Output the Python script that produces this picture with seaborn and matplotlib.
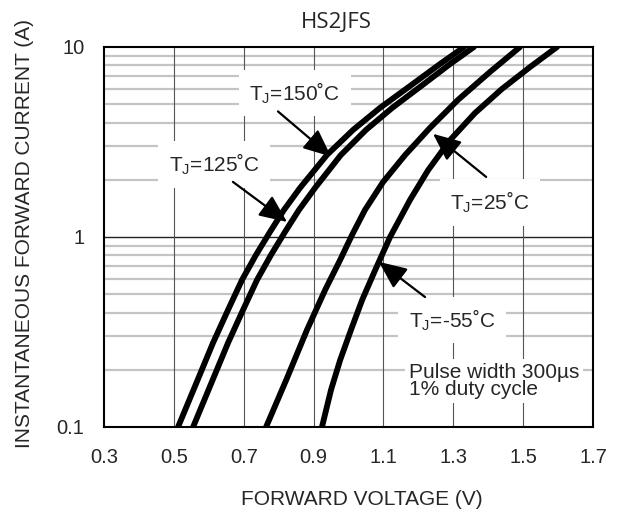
import pandas as pd
import seaborn as sns
import matplotlib.pyplot as plt
from matplotlib.ticker import FixedLocator, NullFormatter

# forward voltage (V) vs instantaneous forward current (A)
i_hot = [0.1, 0.168, 0.277, 0.413, 0.594, 0.804, 1.062, 1.387, 1.811, 2.70, 3.66, 4.78, 6.23, 8.14, 10.0]
v_150 = [0.512, 0.563, 0.612, 0.655, 0.695, 0.735, 0.775, 0.815, 0.861, 0.938, 1.013, 1.090, 1.176, 1.262, 1.331]
v_125 = [0.555, 0.606, 0.655, 0.698, 0.738, 0.778, 0.818, 0.858, 0.904, 0.978, 1.050, 1.125, 1.208, 1.291, 1.359]
v_25 = [0.764, 0.824, 0.881, 0.933, 0.976, 1.010, 1.047, 1.099, 1.162, 1.233, 1.313, 1.405, 1.491]
i_25 = [0.1, 0.181, 0.324, 0.526, 0.757, 1.024, 1.387, 1.948, 2.70, 3.75, 5.26, 7.39, 10.0]
v_m55 = [0.924, 0.950, 0.976, 1.007, 1.039, 1.079, 1.119, 1.176, 1.228, 1.291, 1.362, 1.439, 1.520, 1.597]
i_m55 = [0.1, 0.157, 0.225, 0.324, 0.466, 0.687, 1.0, 1.566, 2.25, 3.24, 4.49, 6.01, 7.85, 10.0]

x_ticks = [0.3, 0.5, 0.7, 0.9, 1.1, 1.3, 1.5, 1.7]
y_ticks = [0.1, 1, 10]
y_ticklabels = ['0.1', '1', '10']

df = pd.concat([
    pd.DataFrame({'V': v_150, 'I': i_hot, 'Tj': '150'}),
    pd.DataFrame({'V': v_125, 'I': i_hot, 'Tj': '125'}),
    pd.DataFrame({'V': v_25, 'I': i_25, 'Tj': '25'}),
    pd.DataFrame({'V': v_m55, 'I': i_m55, 'Tj': '-55'}),
])

sns.set_style('white')
plt.rcParams['font.family'] = ['Liberation Sans', 'DejaVu Sans']

fig = plt.figure(figsize=(6.18, 5.14), dpi=100)
ax = fig.add_axes([0.1683, 0.1693, 0.7913, 0.7393])
ax.set_yscale('log')
ax.set_xlim(0.3, 1.7)
ax.set_ylim(0.1, 10)

# grid: grey minor lines, dark decade line and dark voltage lines
ax.yaxis.set_minor_locator(FixedLocator([k * 0.1 for k in range(2, 10)] + list(range(2, 10))))
ax.yaxis.set_minor_formatter(NullFormatter())
ax.grid(which='minor', axis='y', color='#c4c4c4', lw=1.6)
ax.axhline(1, color='#222222', lw=1.0, zorder=1)
for xv in x_ticks[1:-1]:
    ax.axvline(xv, color='#555555', lw=0.8, zorder=1)

sns.lineplot(data=df, x='V', y='I', hue='Tj', palette=['black'] * 4,
             lw=4.2, legend=False, sort=False, estimator=None, ax=ax, zorder=3)

ax.set_xticks(x_ticks)
ax.set_xticklabels([f'{t:.1f}' for t in x_ticks], fontsize=14.5)
ax.set_yticks(y_ticks)
ax.set_yticklabels(y_ticklabels, fontsize=14.5)
ax.tick_params(axis='x', which='both', length=0, pad=15)
ax.tick_params(axis='y', which='both', length=0, pad=14)
for s in ax.spines.values():
    s.set_color('black')
    s.set_linewidth(1.5)

ax.set_xlabel('')
ax.set_ylabel('')
fig.text(0.586, 0.029, 'FORWARD VOLTAGE (V)', fontsize=15, ha='center', va='center')
fig.text(0.039, 0.546, 'INSTANTANEOUS FORWARD CURRENT (A)', fontsize=15,
         rotation=90, ha='center', va='center')
fig.text(0.545, 0.957, 'HS2JFS', fontsize=16, family='Open Sans', ha='center', va='center')

box = dict(facecolor='white', edgecolor='none', boxstyle='square,pad=0.5')
labels = [
    ('150', (0.846, 5.72), (0.798, 4.58), (0.950, 2.65)),
    ('125', (0.615, 2.41), (0.669, 1.95), (0.824, 1.2)),
    ('25', (1.405, 1.52), (1.394, 2.07), (1.242, 3.49)),
    ('-55', (1.296, 0.366), (1.219, 0.483), (1.087, 0.74)),
]
for tj, pos, tail, head in labels:
    ax.text(pos[0], pos[1], 'T$_\\mathregular{J}$=' + tj + '\u02daC', fontsize=15,
            ha='center', va='center', bbox=box, zorder=4)
    ax.annotate('', xy=head, xytext=tail, zorder=5,
                arrowprops=dict(arrowstyle='-|>,head_length=1.7,head_width=0.75',
                                color='black', lw=1.6, shrinkA=0, shrinkB=0))

ax.text(1.173, 0.217, 'Pulse width 300\u00b5s\n1% duty cycle', fontsize=15,
        ha='left', va='top', linespacing=0.85,
        bbox=dict(facecolor='white', edgecolor='none', boxstyle='square,pad=0.2'), zorder=4)

fig.savefig('out.png', dpi=100)
